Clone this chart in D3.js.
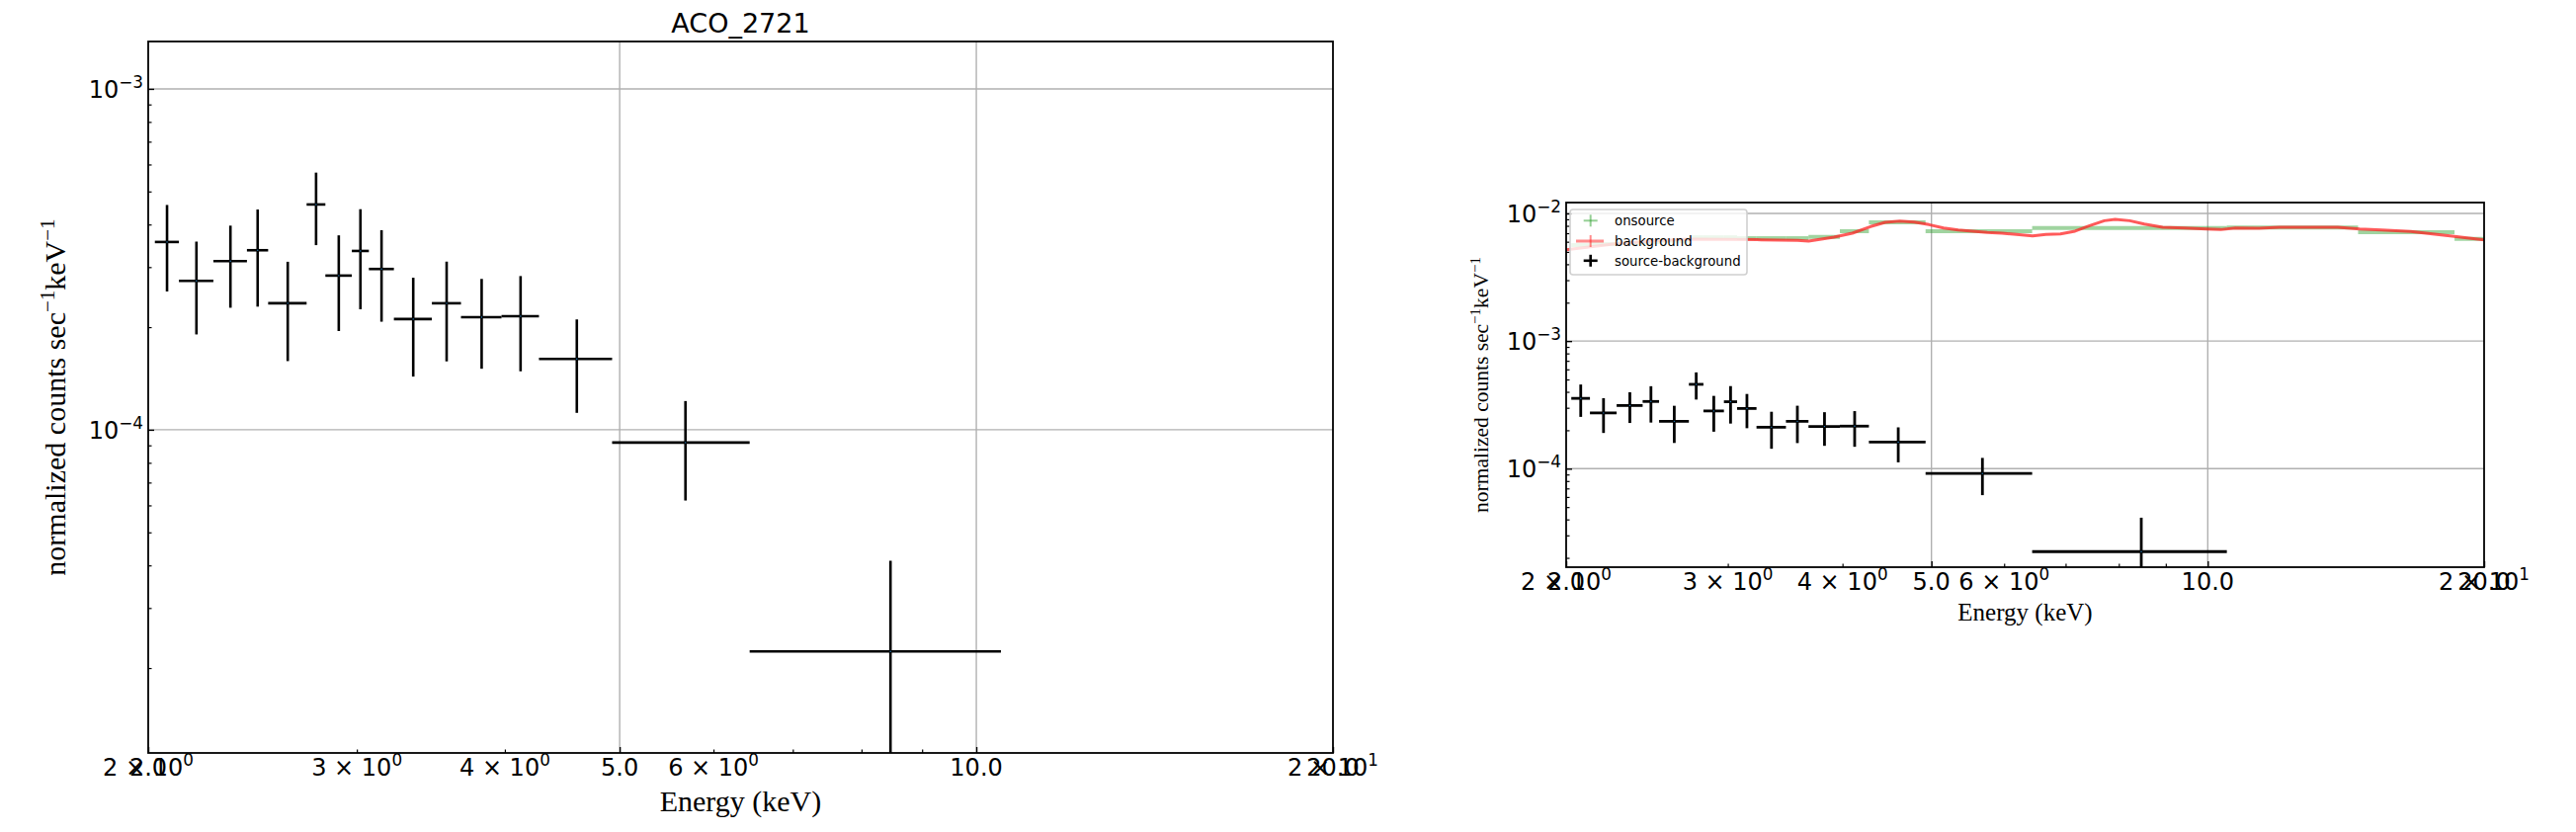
<!DOCTYPE html>
<html><head><meta charset="utf-8">
<script src="https://cdn.jsdelivr.net/npm/d3@7"></script>
<style>body{margin:0;background:#fff}svg{display:block}</style>
</head><body>
<svg id="c" width="2607" height="842"></svg>
<script>
// ---------- data ----------
const energy    = [2.0745, 2.1965, 2.3465, 2.474, 2.623, 2.7715, 2.8965, 3.021, 3.1475, 3.3475, 3.572, 3.8235, 4.124, 4.6005, 5.682, 8.4635];
const energyErr = [0.0485, 0.0735, 0.0765, 0.051, 0.098, 0.0505, 0.0745, 0.05, 0.0765, 0.1235, 0.101, 0.1505, 0.15, 0.3265, 0.755, 2.0265];
const srcRate   = [3.555e-4, 2.734e-4, 3.125e-4, 3.362e-4, 2.35e-4, 4.58e-4, 2.833e-4, 3.346e-4, 2.962e-4, 2.112e-4, 2.35e-4, 2.14e-4, 2.154e-4, 1.614e-4, 9.17e-5, 2.237e-5];
const srcErr    = [1.01e-4, 0.83e-4, 0.845e-4, 1.065e-4, 0.76e-4, 1.1e-4, 0.885e-4, 1.09e-4, 0.887e-4, 0.68e-4, 0.763e-4, 0.63e-4, 0.67e-4, 0.493e-4, 2.97e-5, 1.89e-5];

const onEnergy    = [2.0745, 2.1965, 2.3465, 2.474, 2.623, 2.7715, 2.8965, 3.021, 3.1475, 3.3475, 3.572, 3.8235, 4.124, 4.6005, 5.682, 8.4635, 12.535, 16.575, 20.585];
const onEnergyErr = [0.0485, 0.0735, 0.0765, 0.051, 0.098, 0.0505, 0.0745, 0.05, 0.0765, 0.1235, 0.101, 0.1505, 0.15, 0.3265, 0.755, 2.0265, 2.045, 1.995, 2.015];
const onRate      = [5.65e-3, 5.75e-3, 5.85e-3, 5.95e-3, 6.1e-3, 6.5e-3, 6.5e-3, 6.5e-3, 6.4e-3, 6.4e-3, 6.4e-3, 6.55e-3, 7.26e-3, 8.52e-3, 7.26e-3, 7.70e-3, 7.75e-3, 7.13e-3, 6.32e-3];

const bkgEnergy = [2.0, 2.262, 2.479, 2.716, 2.975, 3.263, 3.574, 3.674, 3.916, 4.100, 4.292, 4.453, 4.618, 4.789, 4.970, 5.155, 5.347, 5.546, 5.752, 5.969, 6.190, 6.444, 6.662, 6.910, 7.168, 7.436, 7.715, 7.927, 8.222, 8.529, 8.930, 9.432, 9.966, 10.33, 10.72, 11.33, 11.97, 12.88, 13.85, 14.64, 15.46, 16.64, 17.57, 18.57, 19.26, 20.0];
const bkgRate   = [5.2e-3, 5.79e-3, 6.07e-3, 6.29e-3, 6.26e-3, 6.22e-3, 6.14e-3, 6.07e-3, 6.52e-3, 7.0e-3, 7.89e-3, 8.52e-3, 8.72e-3, 8.57e-3, 8.17e-3, 7.70e-3, 7.43e-3, 7.26e-3, 7.09e-3, 7.0e-3, 6.84e-3, 6.68e-3, 6.84e-3, 6.92e-3, 7.26e-3, 8.03e-3, 8.77e-3, 8.99e-3, 8.77e-3, 8.27e-3, 7.79e-3, 7.70e-3, 7.56e-3, 7.47e-3, 7.70e-3, 7.65e-3, 7.79e-3, 7.79e-3, 7.79e-3, 7.56e-3, 7.43e-3, 7.22e-3, 6.92e-3, 6.60e-3, 6.40e-3, 6.22e-3];

const xMajorTicks  = [2, 5, 10, 20];
const xMajorLabels = ["2.0", "5.0", "10.0", "20.0"];
const xMinorTicks  = [3, 4, 6, 7, 8, 9];
const xSciTicks    = [2, 3, 4, 6, 20];
const xSciMant     = ["2", "3", "4", "6", "2"];
const xSciExp      = ["0", "0", "0", "0", "1"];
const yMajorExp    = [-5, -4, -3, -2];
const legendLabels = ["onsource", "background", "source-background"];
const title = "ACO_2721";

// ---------- drawing ----------
const svg = d3.select("#c");
const SANS = "DejaVu Sans";
const SERIF = "Liberation Serif";
let clipId = 0;

function drawPanel(cfg) {
  const {x0, x1, y0, y1, yDomain, tickFont, errW, xLabelSize, yLabelSize, yLabelX, xLabelY} = cfg;
  const x = d3.scaleLog().domain([2, 20]).range([x0, x1]);
  const y = d3.scaleLog().domain(yDomain).range([y1, y0]);
  const g = svg.append("g");
  const inY = v => v >= yDomain[0] && v <= yDomain[1];

  // grid
  const yMajor = yMajorExp.map(e => Math.pow(10, e)).filter(inY);
  g.selectAll(".gy").data(yMajor).join("line")
    .attr("x1", x0).attr("x2", x1).attr("y1", d => y(d)).attr("y2", d => y(d))
    .attr("stroke", "#b0b0b0").attr("stroke-width", 1.4);
  g.selectAll(".gx").data(xMajorTicks.slice(1, -1)).join("line")
    .attr("x1", d => x(d)).attr("x2", d => x(d)).attr("y1", y0).attr("y2", y1)
    .attr("stroke", "#b0b0b0").attr("stroke-width", 1.4);

  // axes ticks (inward)
  g.append("g").attr("transform", `translate(0,${y1})`)
    .call(d3.axisBottom(x).tickValues(xMajorTicks).tickSize(-6).tickFormat(() => ""))
    .call(a => { a.select(".domain").remove(); a.selectAll("line").attr("stroke", "#000").attr("stroke-width", 1.4); });
  g.append("g").attr("transform", `translate(0,${y1})`)
    .call(d3.axisBottom(x).tickValues(xMinorTicks).tickSize(-3.5).tickFormat(() => ""))
    .call(a => { a.select(".domain").remove(); a.selectAll("line").attr("stroke", "#000").attr("stroke-width", 1.2); });
  const yMinor = [];
  yMajorExp.forEach(e => { for (let m = 2; m <= 9; m++) { const v = m * Math.pow(10, e); if (inY(v)) yMinor.push(v); } });
  g.append("g").attr("transform", `translate(${x0},0)`)
    .call(d3.axisLeft(y).tickValues(yMajor).tickSize(-6).tickFormat(() => ""))
    .call(a => { a.select(".domain").remove(); a.selectAll("line").attr("stroke", "#000").attr("stroke-width", 1.4); });
  g.append("g").attr("transform", `translate(${x0},0)`)
    .call(d3.axisLeft(y).tickValues(yMinor).tickSize(-3.5).tickFormat(() => ""))
    .call(a => { a.select(".domain").remove(); a.selectAll("line").attr("stroke", "#000").attr("stroke-width", 1.2); });

  // x tick labels (sci + plain, overlapping as in original)
  const tb = y1 + 23;
  xSciTicks.forEach((t, i) => {
    const tx = g.append("text").attr("x", x(t)).attr("y", tb).attr("text-anchor", "middle")
      .attr("font-family", SANS).attr("font-size", tickFont).attr("fill", "#000");
    tx.append("tspan").text(xSciMant[i] + " \u00d7 10");
    tx.append("tspan").attr("font-size", tickFont * 0.7).attr("dy", -tickFont * 0.4).text(xSciExp[i]);
  });
  xMajorTicks.forEach((t, i) => {
    g.append("text").attr("x", x(t)).attr("y", tb).attr("text-anchor", "middle")
      .attr("font-family", SANS).attr("font-size", tickFont).attr("fill", "#000").text(xMajorLabels[i]);
  });
  // y tick labels
  yMajorExp.forEach(e => {
    const v = Math.pow(10, e);
    if (!inY(v)) return;
    const tx = g.append("text").attr("x", x0 - 5).attr("y", y(v) + tickFont * 0.36).attr("text-anchor", "end")
      .attr("font-family", SANS).attr("font-size", tickFont).attr("fill", "#000");
    tx.append("tspan").text("10");
    tx.append("tspan").attr("font-size", tickFont * 0.7).attr("dy", -tickFont * 0.4).text("\u2212" + (-e));
  });

  // axis labels
  g.append("text").attr("x", (x0 + x1) / 2).attr("y", xLabelY).attr("text-anchor", "middle")
    .attr("font-family", SERIF).attr("font-size", xLabelSize).text("Energy (keV)");
  const yl = g.append("text").attr("transform", `translate(${yLabelX},${(y0 + y1) / 2}) rotate(-90)`)
    .attr("text-anchor", "middle").attr("font-family", SERIF).attr("font-size", yLabelSize);
  yl.append("tspan").text("normalized counts sec");
  yl.append("tspan").attr("font-size", yLabelSize * 0.7).attr("dy", -yLabelSize * 0.38).text("\u22121");
  yl.append("tspan").attr("dy", yLabelSize * 0.38).text("keV");
  yl.append("tspan").attr("font-size", yLabelSize * 0.7).attr("dy", -yLabelSize * 0.38).text("\u22121");

  // clip
  const cid = "clip" + (clipId++);
  svg.append("clipPath").attr("id", cid).append("rect")
    .attr("x", x0).attr("y", y0).attr("width", x1 - x0).attr("height", y1 - y0);
  const d = g.append("g").attr("clip-path", `url(#${cid})`);

  if (cfg.withBkg) {
    d.selectAll(".on").data(onEnergy).join("line")
      .attr("x1", (e, i) => x(e - onEnergyErr[i])).attr("x2", (e, i) => x(e + onEnergyErr[i]))
      .attr("y1", (e, i) => y(onRate[i])).attr("y2", (e, i) => y(onRate[i]))
      .attr("stroke", "#2ca02c").attr("stroke-opacity", 0.45).attr("stroke-width", 4);
    const line = d3.line().x(p => x(p[0])).y(p => y(p[1]));
    d.append("path").datum(bkgEnergy.map((e, i) => [e, bkgRate[i]]))
      .attr("d", line).attr("fill", "none").attr("stroke", "#ff1a1a")
      .attr("stroke-opacity", 0.72).attr("stroke-width", 3).attr("stroke-linejoin", "round");
  }

  const lo = v => Math.max(v, yDomain[0] * 0.5);
  d.selectAll(".eh").data(energy).join("line")
    .attr("x1", (e, i) => x(e - energyErr[i])).attr("x2", (e, i) => x(e + energyErr[i]))
    .attr("y1", (e, i) => y(srcRate[i])).attr("y2", (e, i) => y(srcRate[i]))
    .attr("stroke", "#000").attr("stroke-width", errW);
  d.selectAll(".ev").data(energy).join("line")
    .attr("x1", e => x(e)).attr("x2", e => x(e))
    .attr("y1", (e, i) => y(lo(srcRate[i] - srcErr[i]))).attr("y2", (e, i) => y(srcRate[i] + srcErr[i]))
    .attr("stroke", "#000").attr("stroke-width", errW);
  d.selectAll(".dot").data(energy).join("circle")
    .attr("cx", e => x(e)).attr("cy", (e, i) => y(srcRate[i])).attr("r", 0.7).attr("fill", "#1f77b4");

  // spines
  g.append("rect").attr("x", x0).attr("y", y0).attr("width", x1 - x0).attr("height", y1 - y0)
    .attr("fill", "none").attr("stroke", "#000").attr("stroke-width", 1.8);
  return {x, y, g};
}

// left panel
drawPanel({x0: 150, x1: 1349, y0: 42, y1: 762, yDomain: [1.127e-5, 1.377e-3], tickFont: 24,
  errW: 2.6, xLabelSize: 30, yLabelSize: 30, yLabelX: 66, xLabelY: 821});
svg.append("text").attr("x", 749.5).attr("y", 33).attr("text-anchor", "middle")
  .attr("font-family", SANS).attr("font-size", 27).text(title);

// right panel
drawPanel({x0: 1585, x1: 2514, y0: 205, y1: 574, yDomain: [1.69e-5, 1.217e-2], tickFont: 24,
  errW: 2.8, xLabelSize: 25, yLabelSize: 21.5, yLabelX: 1506, xLabelY: 628, withBkg: true});

// legend
const lg = svg.append("g");
lg.append("rect").attr("x", 1589).attr("y", 212).attr("width", 179).attr("height", 66).attr("rx", 3)
  .attr("fill", "#fff").attr("fill-opacity", 0.8).attr("stroke", "#d0d0d0").attr("stroke-width", 1.6);
const rowsY = [223.3, 244, 263.8];
// onsource
lg.append("line").attr("x1", 1602.7).attr("x2", 1616.7).attr("y1", rowsY[0]).attr("y2", rowsY[0]).attr("stroke", "#2ca02c").attr("stroke-opacity", 0.5).attr("stroke-width", 2);
lg.append("line").attr("x1", 1609.7).attr("x2", 1609.7).attr("y1", rowsY[0] - 6).attr("y2", rowsY[0] + 6).attr("stroke", "#2ca02c").attr("stroke-opacity", 0.5).attr("stroke-width", 2);
// background
lg.append("line").attr("x1", 1595).attr("x2", 1623).attr("y1", rowsY[1]).attr("y2", rowsY[1]).attr("stroke", "#ff1a1a").attr("stroke-opacity", 0.5).attr("stroke-width", 3);
lg.append("line").attr("x1", 1609.7).attr("x2", 1609.7).attr("y1", rowsY[1] - 6).attr("y2", rowsY[1] + 6).attr("stroke", "#ff1a1a").attr("stroke-opacity", 0.5).attr("stroke-width", 2);
// source-background
lg.append("line").attr("x1", 1602.7).attr("x2", 1616.7).attr("y1", rowsY[2]).attr("y2", rowsY[2]).attr("stroke", "#000").attr("stroke-width", 2.6);
lg.append("line").attr("x1", 1609.7).attr("x2", 1609.7).attr("y1", rowsY[2] - 6).attr("y2", rowsY[2] + 6).attr("stroke", "#000").attr("stroke-width", 2.6);
legendLabels.forEach((t, i) => {
  lg.append("text").attr("x", 1634).attr("y", rowsY[i] + 4.7).attr("font-family", SANS)
    .attr("font-size", 13.3).attr("fill", "#000").text(t);
});
</script>
</body></html>
